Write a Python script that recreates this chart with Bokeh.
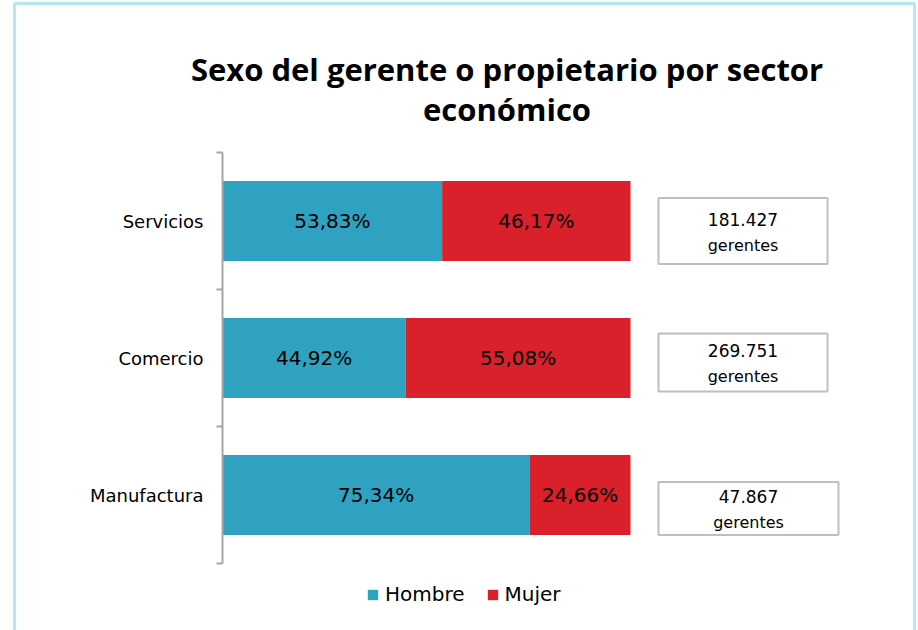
from bokeh.plotting import figure
from bokeh.models import (ColumnDataSource, Range1d, FixedTicker, LinearAxis, Legend,
                          LegendItem, Label, BoxAnnotation)
from bokeh.core.properties import value
from bokeh.embed import file_html
from bokeh.resources import INLINE

# ---- data ----
sectors = ["Servicios", "Comercio", "Manufactura"]
series_names = ["Hombre", "Mujer"]
hombre = [53.83, 44.92, 75.34]
mujer = [46.17, 55.08, 24.66]
totals = [181427, 269751, 47867]
unit_label = "gerentes"
title_lines = ["Sexo del gerente o propietario por sector", "económico"]

# ---- styles / layout ----
TEAL = "#2ea2c0"
RED = "#d9202b"
GRAY = "#a6a6a6"
BORDER = "#b2e8f1"
FONT = "DejaVu Sans"
W, H = 918, 630
X0_PX, PX_PER_X = 222, 4.08     # pixel of 0 %, pixels per 1 %
Y0_PX, PX_PER_Y = 563, 137.0    # pixel of bottom of axis, pixels per category

def px2x(px):
    return (px - X0_PX) / PX_PER_X

def py2y(py):
    return (Y0_PX - py) / PX_PER_Y

n = len(sectors)
ys = [n - 1 - i + 0.5 for i in range(n)]

def pct(v):
    return f"{v:.2f}".replace(".", ",") + "%"

def thousands(v):
    return f"{v:,}".replace(",", ".")

src = ColumnDataSource(dict(
    y=ys,
    h_end=hombre,
    m_end=[a + b for a, b in zip(hombre, mujer)],
    h_mid=[a / 2 for a in hombre],
    m_mid=[a + b / 2 for a, b in zip(hombre, mujer)],
    h_txt=[pct(v) for v in hombre],
    m_txt=[pct(v) for v in mujer],
))

p = figure(width=W, height=H, x_range=Range1d(px2x(0), px2x(W)), y_range=Range1d(py2y(H), py2y(0)),
           output_backend="svg", toolbar_location=None,
           x_axis_location=None, y_axis_location=None,
           min_border=0, min_border_left=0, min_border_right=0, min_border_top=0, min_border_bottom=0)
p.outline_line_color = None
p.grid.visible = False

# y axis with boundary ticks, drawn at x = 0
ticker = FixedTicker(ticks=ys, minor_ticks=list(range(n + 1)))
yaxis = LinearAxis(ticker=ticker, fixed_location=0, bounds=(0, n))
yaxis.major_label_overrides = {y: s for y, s in zip(ys, sectors)}
yaxis.axis_line_color = GRAY
yaxis.axis_line_width = 2
yaxis.major_tick_out = 0
yaxis.major_tick_in = 0
yaxis.minor_tick_out = 6
yaxis.minor_tick_in = 0
yaxis.minor_tick_line_color = GRAY
yaxis.minor_tick_line_width = 2
yaxis.major_label_standoff = 13
yaxis.major_label_text_font = FONT
yaxis.major_label_text_font_size = "18px"
yaxis.major_label_text_color = "black"
p.add_layout(yaxis, "left")

BAR_H = 80 / PX_PER_Y
r1 = p.hbar(y="y", left=0, right="h_end", height=BAR_H, source=src, fill_color=TEAL, line_color=None)
r2 = p.hbar(y="y", left="h_end", right="m_end", height=BAR_H, source=src, fill_color=RED, line_color=None)

p.text(x="h_mid", y="y", text="h_txt", source=src, text_align="center", text_baseline="middle",
       text_font=value(FONT), text_font_size="20px", text_color="black")
p.text(x="m_mid", y="y", text="m_txt", source=src, text_align="center", text_baseline="middle",
       text_font=value(FONT), text_font_size="20px", text_color="black")

# total boxes
BOX_W = [169, 169, 180]
BOX_H = [66, 58, 53]
BOX_DY = [10, 4.5, 13.5]
BOX_CX = [742.5, 742.5, 748]
box_src = ColumnDataSource(dict(
    x=[px2x(c) for c in BOX_CX],
    y=[y - dy / PX_PER_Y for y, dy in zip(ys, BOX_DY)],
    w=BOX_W, hh=BOX_H,
    t1=[thousands(v) for v in totals],
    t2=[unit_label] * n,
))
p.rect(x="x", y="y", width="w", height="hh", width_units="screen", height_units="screen",
       source=box_src, fill_color="white", line_color="#bfbfbf", line_width=2)
p.text(x="x", y="y", text="t1", source=box_src, y_offset=-12, text_align="center",
       text_baseline="middle", text_font=value(FONT), text_font_size="17px", text_color="black")
p.text(x="x", y="y", text="t2", source=box_src, y_offset=14, text_align="center",
       text_baseline="middle", text_font=value(FONT), text_font_size="16px", text_color="black")

legend = Legend(items=[LegendItem(label=series_names[0], renderers=[r1]),
                       LegendItem(label=series_names[1], renderers=[r2])],
                orientation="horizontal", location=(366, 24),
                glyph_width=13, glyph_height=13, label_standoff=6, spacing=21,
                padding=10, margin=0, border_line_color=None, background_fill_alpha=0,
                label_text_font=FONT, label_text_font_size="20px", label_text_color="black")
p.add_layout(legend, "center")

# title lines
for line, base_py in zip(title_lines, [68, 108]):
    p.add_layout(Label(x=px2x(506.5), y=py2y(base_py), text=line, text_align="center",
                       text_baseline="alphabetic", text_font="Open Sans", text_font_size="31px",
                       text_font_style="bold", text_color="black"))

# outer frame
p.add_layout(BoxAnnotation(left=px2x(14), right=px2x(914), top=py2y(3), bottom=py2y(700),
                           fill_alpha=0, line_color=BORDER, line_alpha=1, line_width=3))

open("out.html", "w").write(file_html(p, INLINE))
